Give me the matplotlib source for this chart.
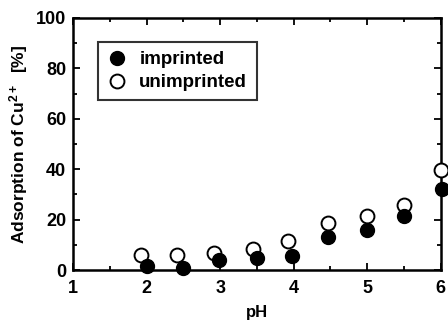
import matplotlib
matplotlib.use("Agg")
import matplotlib.pyplot as plt
from matplotlib.ticker import MultipleLocator

plt.rcParams['font.family'] = ['Liberation Sans', 'DejaVu Sans']
plt.rcParams['font.weight'] = 'bold'
plt.rcParams['mathtext.fontset'] = 'custom'
plt.rcParams['mathtext.rm'] = 'Liberation Sans:bold'
plt.rcParams['mathtext.default'] = 'rm'

# imprinted (filled)
ph_imp = [2.0, 2.5, 2.98, 3.5, 3.98, 4.47, 5.0, 5.5, 6.02]
ads_imp = [1.6, 0.7, 4.2, 4.6, 5.7, 13.0, 15.9, 21.4, 32.0]

# unimprinted (open)
ph_unimp = [1.92, 2.42, 2.92, 3.44, 3.92, 4.46, 5.0, 5.5, 6.0]
ads_unimp = [6.0, 6.0, 6.6, 8.2, 11.4, 18.5, 21.4, 25.8, 39.7]

fig = plt.figure(figsize=(4.48, 3.31), dpi=100)
ax = fig.add_axes([0.163, 0.184, 0.821, 0.762])

ax.plot(ph_unimp, ads_unimp, 'o', mfc='white', mec='black', mew=1.4, ms=10,
        clip_on=False, label='unimprinted', zorder=3)
ax.plot(ph_imp, ads_imp, 'o', color='black', ms=10,
        clip_on=False, label='imprinted', zorder=4)

ax.set_xlim(1, 6)
ax.set_ylim(0, 100)
ax.xaxis.set_major_locator(MultipleLocator(1))
ax.xaxis.set_minor_locator(MultipleLocator(0.5))
ax.yaxis.set_major_locator(MultipleLocator(20))
ax.yaxis.set_minor_locator(MultipleLocator(10))
ax.tick_params(which='both', direction='in', top=True, right=True, width=1.3,
               labelsize=13)
ax.tick_params(axis='x', pad=7)
ax.tick_params(axis='y', pad=5)
ax.tick_params(which='major', length=5)
ax.tick_params(which='minor', length=3)
for s in ax.spines.values():
    s.set_linewidth(1.8)

ax.set_xlabel('pH', fontsize=12, fontweight='bold', labelpad=6)
ax.set_ylabel('Adsorption of Cu$^{2+}$  [%]', fontsize=12.5, fontweight='bold', labelpad=4)

h, l = ax.get_legend_handles_labels()
leg = ax.legend(h[::-1], l[::-1], loc='upper left', bbox_to_anchor=(0.068, 0.905),
                fontsize=13.5, frameon=True, fancybox=False, edgecolor='black',
                handletextpad=0.7, borderpad=0.5, labelspacing=0.3,
                handlelength=1.0, borderaxespad=0, markerscale=1.0)
leg.get_frame().set_linewidth(1.5)

fig.savefig('out.png', dpi=100)
